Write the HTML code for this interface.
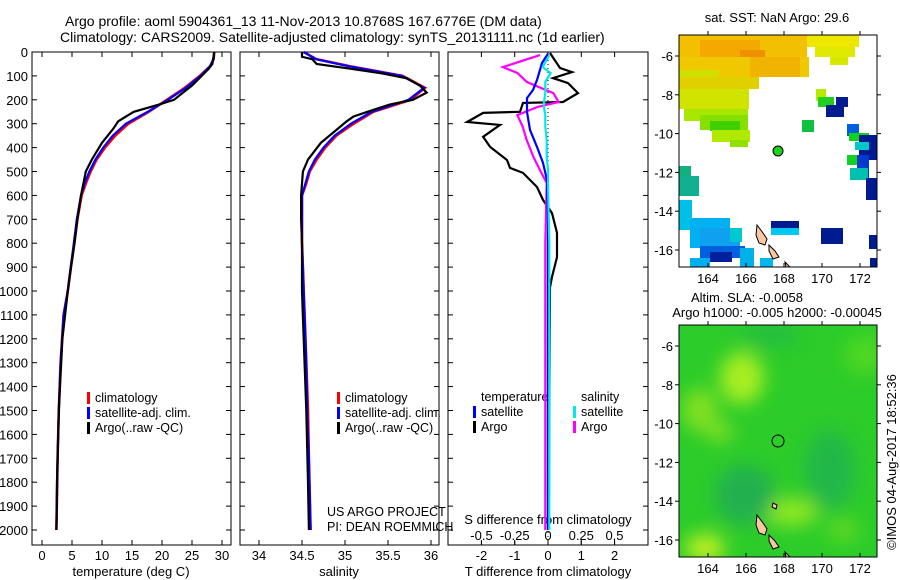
<!DOCTYPE html>
<html><head><meta charset="utf-8"><style>
body{margin:0;background:#fff;}
svg{display:block;font-family:"Liberation Sans",sans-serif;}
text{fill:#000;}
</style></head><body>
<svg id="c" width="900" height="580" viewBox="0 0 900 580" xmlns="http://www.w3.org/2000/svg">
<defs>
<filter id="bl" x="-50%" y="-50%" width="200%" height="200%"><feGaussianBlur stdDeviation="9"/></filter>
<clipPath id="cpTop"><rect x="679" y="35" width="198" height="232"/></clipPath>
<clipPath id="cpBot"><rect x="679" y="325" width="198" height="232"/></clipPath>
</defs>
<text x="65" y="26" font-size="14">Argo profile: aoml 5904361_13 11-Nov-2013 10.8768S 167.6776E (DM data)</text>
<text x="60" y="42" font-size="14">Climatology: CARS2009. Satellite-adjusted climatology: synTS_20131111.nc (1d earlier)</text>

<!-- top map -->
<g>
<text x="777" y="22" font-size="13" text-anchor="middle">sat. SST: NaN Argo: 29.6</text>
<g clip-path="url(#cpTop)">
<rect x="679" y="35" width="128" height="22" fill="#f2c000"/>
<rect x="700" y="40" width="60" height="30" fill="#f5a800"/>
<rect x="740" y="50" width="25" height="18" fill="#ee9000"/>
<rect x="679" y="57" width="130" height="20" fill="#f0c800"/>
<rect x="750" y="57" width="50" height="20" fill="#f0b400"/>
<rect x="679" y="70" width="40" height="20" fill="#cfe000"/>
<rect x="679" y="77" width="80" height="12" fill="#e0d000"/>
<rect x="679" y="89" width="70" height="20" fill="#d0e400"/>
<rect x="684" y="109" width="64" height="12" fill="#a8e800"/>
<rect x="700" y="115" width="48" height="15" fill="#88e000"/>
<rect x="710" y="121" width="30" height="10" fill="#40d000"/>
<rect x="712" y="130" width="38" height="12" fill="#b0e800"/>
<rect x="730" y="140" width="18" height="7" fill="#90e000"/>
<rect x="807" y="35" width="52" height="12" fill="#eee800"/>
<rect x="815" y="47" width="40" height="10" fill="#e0ea00"/>
<rect x="830" y="57" width="18" height="8" fill="#d8e800"/>
<rect x="816" y="89" width="10" height="12" fill="#b8ea00"/>
<rect x="818" y="97" width="16" height="10" fill="#20d020"/>
<rect x="836" y="97" width="12" height="10" fill="#001a90"/>
<rect x="826" y="105" width="18" height="12" fill="#001a90"/>
<rect x="802" y="120" width="12" height="12" fill="#10c040"/>
<rect x="847" y="124" width="12" height="12" fill="#0060e0"/>
<rect x="849" y="133" width="20" height="8" fill="#10d020"/>
<rect x="859" y="135" width="18" height="25" fill="#001a90"/>
<rect x="855" y="142" width="14" height="8" fill="#00c8c8"/>
<rect x="847" y="155" width="10" height="10" fill="#10d020"/>
<rect x="857" y="155" width="12" height="25" fill="#003ad0"/>
<rect x="850" y="168" width="18" height="12" fill="#00c0b0"/>
<rect x="866" y="178" width="11" height="22" fill="#001a90"/>
<rect x="679" y="166" width="12" height="12" fill="#10b080"/>
<rect x="679" y="176" width="20" height="20" fill="#10b090"/>
<rect x="679" y="200" width="13" height="30" fill="#00c0e8"/>
<rect x="690" y="218" width="40" height="30" fill="#00b0f0"/>
<rect x="700" y="228" width="40" height="20" fill="#10a0f0"/>
<rect x="730" y="228" width="12" height="14" fill="#00c8d0"/>
<rect x="700" y="246" width="45" height="12" fill="#0060e0"/>
<rect x="710" y="252" width="22" height="10" fill="#0020a0"/>
<rect x="690" y="258" width="20" height="9" fill="#00b0f0"/>
<rect x="740" y="248" width="14" height="19" fill="#00b0e8"/>
<rect x="760" y="258" width="13" height="9" fill="#00b8f0"/>
<rect x="771" y="221" width="28" height="12" fill="#001a90"/>
<rect x="771" y="228" width="28" height="7" fill="#00c8f0"/>
<rect x="821" y="228" width="22" height="16" fill="#001a90"/>
<rect x="869" y="235" width="8" height="14" fill="#001a90"/>
<rect x="870" y="258" width="7" height="9" fill="#001a90"/>
<path d="M757,225 l6,8 4,6 -2,6 -6,-2 -3,-8z M769,245 l6,6 4,6 -6,2 -4,-8z M785,262 l5,5 -4,0z" fill="#f8c8a0" stroke="#000" stroke-width="1"/>
<circle cx="778" cy="151" r="5" fill="#20d020" stroke="#000" stroke-width="1"/>
</g>
<rect x="679" y="35" width="198" height="232" fill="none" stroke="#000" stroke-width="1"/>
<g id="topMapAxes"></g>
</g>

<!-- bottom map -->
<g>
<text x="747" y="302" font-size="13" text-anchor="middle">Altim. SLA: -0.0058</text>
<text x="777" y="317" font-size="13" text-anchor="middle">Argo h1000: -0.005 h2000: -0.00045</text>
<g clip-path="url(#cpBot)">
<rect x="679" y="325" width="198" height="232" fill="#2ccc2a"/>
<g filter="url(#bl)">
<ellipse cx="742" cy="378" rx="22" ry="26" fill="#a8ee20"/>
<ellipse cx="700" cy="410" rx="18" ry="22" fill="#80e020"/>
<ellipse cx="720" cy="432" rx="14" ry="10" fill="#80e020"/>
<ellipse cx="705" cy="548" rx="20" ry="14" fill="#c0f020"/>
<ellipse cx="790" cy="512" rx="28" ry="14" fill="#90e820"/>
<ellipse cx="745" cy="495" rx="30" ry="30" fill="#20b050"/>
<ellipse cx="830" cy="470" rx="25" ry="40" fill="#20b848"/>
<ellipse cx="865" cy="355" rx="20" ry="20" fill="#50d820"/>
<ellipse cx="843" cy="530" rx="16" ry="12" fill="#60d820"/>
<ellipse cx="770" cy="335" rx="30" ry="12" fill="#20c040"/>
</g>
<path d="M757,515 l6,8 4,6 -2,6 -6,-2 -3,-8z M769,535 l6,6 4,6 -6,2 -4,-8z M785,552 l5,5 -4,0z M773,503 l4,2 -1,4 -4,-2z" fill="#f8c8a0" stroke="#000" stroke-width="1"/>
<circle cx="778" cy="441" r="6" fill="none" stroke="#000" stroke-width="1"/>
</g>
<rect x="679" y="325" width="198" height="232" fill="none" stroke="#000" stroke-width="1"/>
<g id="botMapAxes"></g>
</g>
<text transform="translate(896,462) rotate(-90)" font-size="13" text-anchor="middle">©IMOS 04-Aug-2017 18:52:36</text>
</svg>
<script>
// ---- data ----
const climDepth = [0,30,60,100,150,200,250,300,350,400,450,500,550,600,700,800,900,1000,1100,1300,1500,1700,2000];
const climTemp  = [28.7,28.6,28.0,26.3,23.8,20.8,17.8,14.4,12.2,10.5,9.1,8.1,7.3,6.6,5.9,5.4,4.8,4.3,3.6,3.1,2.8,2.6,2.4];
const satTemp   = [28.7,28.6,28.0,26.4,24.0,21.0,17.6,14.0,11.8,10.2,8.9,7.9,7.1,6.5,5.8,5.3,4.8,4.3,3.6,3.1,2.8,2.6,2.4];
const climSal   = [34.52,34.67,35.06,35.67,35.93,35.76,35.33,35.10,34.90,34.77,34.67,34.59,34.55,34.50,34.50,34.50,34.51,34.52,34.53,34.55,34.57,34.58,34.60];
const satSal    = [34.52,34.66,35.05,35.66,35.92,35.74,35.31,35.07,34.88,34.75,34.65,34.58,34.54,34.50,34.50,34.50,34.51,34.52,34.53,34.55,34.56,34.58,34.60];
const argoDepth = [0,20,30,50,70,90,110,140,170,200,220,250,270,290,320,380,450,500,600,700,800,1000,1200,1500,1800,2000];
const argoTemp  = [28.7,28.6,28.5,28.4,27.8,27.0,26.2,25.0,23.5,22.0,19.5,15.3,14.0,12.7,11.9,10.0,8.3,7.3,6.5,5.9,5.4,4.3,3.4,2.8,2.5,2.4];
const argoSal   = [34.50,34.50,34.62,34.67,35.06,35.44,35.72,35.87,35.95,35.79,35.52,35.26,35.10,35.02,34.92,34.72,34.57,34.51,34.49,34.49,34.50,34.50,34.52,34.55,34.57,34.58];
const diffDepth = [4,67,84,109,130,172,209,213,250,255,293,305,355,397,452,485,506,565,619,674,757,858,941,985,1200,1500,1800,2000];
const argoTDiff = [0.06,0.36,0.72,0.15,0.6,0.9,0.45,-0.75,-0.84,-1.95,-2.43,-1.44,-1.95,-1.74,-1.23,-1.14,-0.75,-0.33,-0.15,0.12,0.27,0.27,0.12,0.06,0.05,0.04,0.03,0.02];
const satDiffDepth = [7,46,117,159,193,251,326,397,464,536,700,1000,1500,2000];
const satTDiff  = [0.0,-0.18,-0.33,-0.45,-0.63,-0.63,-0.54,-0.33,-0.15,-0.03,0.0,0.0,0.0,0.0];
const argoSDiffDepth = [13,63,88,125,172,209,230,264,313,368,439,494,548,800,1200,1600,2000];
const argoSDiff = [-0.06,-0.34,-0.23,-0.16,0.04,0.08,-0.08,-0.23,-0.19,-0.16,-0.11,-0.06,-0.01,-0.02,-0.02,-0.02,-0.02];
const satSDiff  = [0.01,-0.04,0.02,-0.02,-0.02,-0.03,-0.03,-0.02,-0.02,-0.01,-0.01,0.0,0.0,0.01,0.01,0.01,0.01];
const depthTicks = [0,100,200,300,400,500,600,700,800,900,1000,1100,1200,1300,1400,1500,1600,1700,1800,1900,2000];
const tempTicks = [0,5,10,15,20,25,30];
const salTicks = [34,34.5,35,35.5,36];
const salTickLabels = ["34","34.5","35","35.5","36"];
const tDiffTicks = [-2,-1,0,1,2];
const sDiffTicks = [-0.5,-0.25,0,0.25,0.5];
const sDiffLabels = ["-0.5","-0.25","0","0.25","0.5"];
const lonTicks = [164,166,168,170,172];
const latTicks = [-6,-8,-10,-12,-14,-16];

// ---- scales ----
const TOP=52, BOT=545;
const yD = d => TOP + d*0.239;
const xT = t => 42 + t*6.0;
const xS = s => 259 + (s-34)*86;
const xTd = v => 548 + v*33.3;
const xSd = v => 548 + v*133;
const xLon = l => 708 + (l-164)*19;
const yLatTop = l => 56 + (-6-l)*19.4;
const yLatBot = l => 346 + (-6-l)*19.4;

const svg = document.getElementById('c');
const NS = 'http://www.w3.org/2000/svg';
function mk(tag, attrs, parent){
  const e = document.createElementNS(NS, tag);
  for (const k in attrs) e.setAttribute(k, attrs[k]);
  (parent||svg).appendChild(e);
  return e;
}
function txt(x,y,s,anchor,size,parent){
  const t = mk('text',{x:x,y:y,'font-size':size||13,'text-anchor':anchor||'start'},parent);
  t.textContent = s; return t;
}
function line(xs, ys, color, w, name){
  const pts = xs.map((x,i)=>x.toFixed(1)+','+ys[i].toFixed(1)).join(' ');
  const p = mk('polyline',{points:pts,fill:'none',stroke:color,'stroke-width':w||2.2,'stroke-linejoin':'miter'});
  
  
  return p;
}
function panel(x0,x1,name){
  const g = mk('g',{});
  
  
  mk('rect',{x:x0,y:TOP,width:x1-x0,height:BOT-TOP,fill:'none',stroke:'#000','stroke-width':1},g);
  depthTicks.forEach(d=>{
    mk('line',{x1:x0,x2:x0+5,y1:yD(d),y2:yD(d),stroke:'#000'},g);
    mk('line',{x1:x1,x2:x1-5,y1:yD(d),y2:yD(d),stroke:'#000'},g);
  });
  return g;
}
function xticks(g, ticks, fx, labels, ly){
  ticks.forEach((v,i)=>{
    const x = fx(v);
    mk('line',{x1:x,x2:x,y1:BOT,y2:BOT-5,stroke:'#000'},g);
    mk('line',{x1:x,x2:x,y1:TOP,y2:TOP+5,stroke:'#000'},g);
    if(labels) txt(x, ly, labels[i], 'middle', 13, g);
  });
}

// Panel 1 temperature
const g1 = panel(32,231,'temperature-panel');
depthTicks.forEach(d=>{ const t=txt(28,yD(d)+5,String(d),'end',13,g1); });
xticks(g1,tempTicks,xT,tempTicks.map(String),560);
const xl1 = txt(131,576,'temperature (deg C)','middle',13,g1);


line(climTemp.map(xT), climDepth.map(yD), '#ff0000', 2.6, 'temperature-climatology-line');
line(satTemp.map(xT), climDepth.map(yD), '#0000ff', 2.2, 'temperature-satellite-line');
line(argoTemp.map(xT), argoDepth.map(yD), '#000000', 2.2, 'temperature-argo-line');

// Panel 2 salinity
const g2 = panel(240,439,'salinity-panel');
xticks(g2,salTicks,xS,salTickLabels,560);
const xl2 = txt(339,576,'salinity','middle',13,g2);


line(climSal.map(xS), climDepth.map(yD), '#ff0000', 2.6, 'salinity-climatology-line');
line(satSal.map(xS), climDepth.map(yD), '#0000ff', 2.2, 'salinity-satellite-line');
line(argoSal.map(xS), argoDepth.map(yD), '#000000', 2.2, 'salinity-argo-line');

// Legends panels 1 & 2
function legend(x,y,items,g,prefix){
  items.forEach((it,i)=>{
    const r = mk('rect',{x:x,y:y+i*15-6,width:3,height:12,fill:it[1]},g);
    
    
    const t = txt(x+8,y+i*15+4,it[0],'start',12.5,g);
    
    
  });
}
const leg = [['climatology','#ff0000'],['satellite-adj. clim.','#0000ff'],['Argo(..raw -QC)','#000000']];
legend(87,398,leg,g1,'temperature');
legend(337,398,leg,g2,'salinity');
txt(327,516,'US ARGO PROJECT','start',12.5,g2);
txt(327,531,'PI: DEAN ROEMMICH','start',12.5,g2);

// Panel 3 differences
const g3 = panel(448,648,'difference-panel');
tDiffTicks.forEach(v=>{
  mk('line',{x1:xTd(v),x2:xTd(v),y1:BOT,y2:BOT-5,stroke:'#000'},g3);
  mk('line',{x1:xTd(v),x2:xTd(v),y1:TOP,y2:TOP+5,stroke:'#000'},g3);
  txt(xTd(v),560,String(v),'middle',13,g3);
});
sDiffTicks.forEach((v,i)=>{
  mk('line',{x1:xSd(v),x2:xSd(v),y1:BOT,y2:BOT-4,stroke:'#000'},g3);
  txt(xSd(v),540,sDiffLabels[i],'middle',13,g3);
});
txt(548,524,'S difference from climatology','middle',13,g3);
txt(548,576,'T difference from climatology','middle',13,g3);
mk('line',{x1:548,x2:548,y1:TOP,y2:BOT,stroke:'#000','stroke-dasharray':'1,3'},g3);
line(argoTDiff.map(xTd), diffDepth.map(yD), '#000000', 2.2, 'argo-t-difference-line');
line(argoSDiff.map(xSd), argoSDiffDepth.map(yD), '#ff00ff', 2.2, 'argo-s-difference-line');
line(satTDiff.map(xTd), satDiffDepth.map(yD), '#0000ff', 2.2, 'satellite-t-difference-line');
line(satSDiff.map(xSd), argoSDiffDepth.map(yD), '#00e8e8', 2.2, 'satellite-s-difference-line');
txt(481,401,'temperature','start',12.5,g3);
txt(581,401,'salinity','start',12.5,g3);
legend(473,412,[['satellite','#0000ff'],['Argo','#000000']],g3,'t-diff');
legend(573,412,[['satellite','#00e8e8'],['Argo','#ff00ff']],g3,'s-diff');

// Map axes
function mapAxes(id, yTop, yBot, yLat){
  const g = document.getElementById(id);
  lonTicks.forEach(l=>{
    const x=xLon(l);
    mk('line',{x1:x,x2:x,y1:yBot,y2:yBot-4,stroke:'#000'},g);
    mk('line',{x1:x,x2:x,y1:yTop,y2:yTop-4,stroke:'#000'},g);
    txt(x,yBot+16,String(l),'middle',13,g);
  });
  latTicks.forEach(l=>{
    const y=yLat(l);
    mk('line',{x1:679,x2:675,y1:y,y2:y,stroke:'#000'},g);
    mk('line',{x1:877,x2:881,y1:y,y2:y,stroke:'#000'},g);
    txt(673,y+5,String(l),'end',13,g);
  });
}
mapAxes('topMapAxes',35,267,yLatTop);
mapAxes('botMapAxes',325,557,yLatBot);
</script>
</body></html>
